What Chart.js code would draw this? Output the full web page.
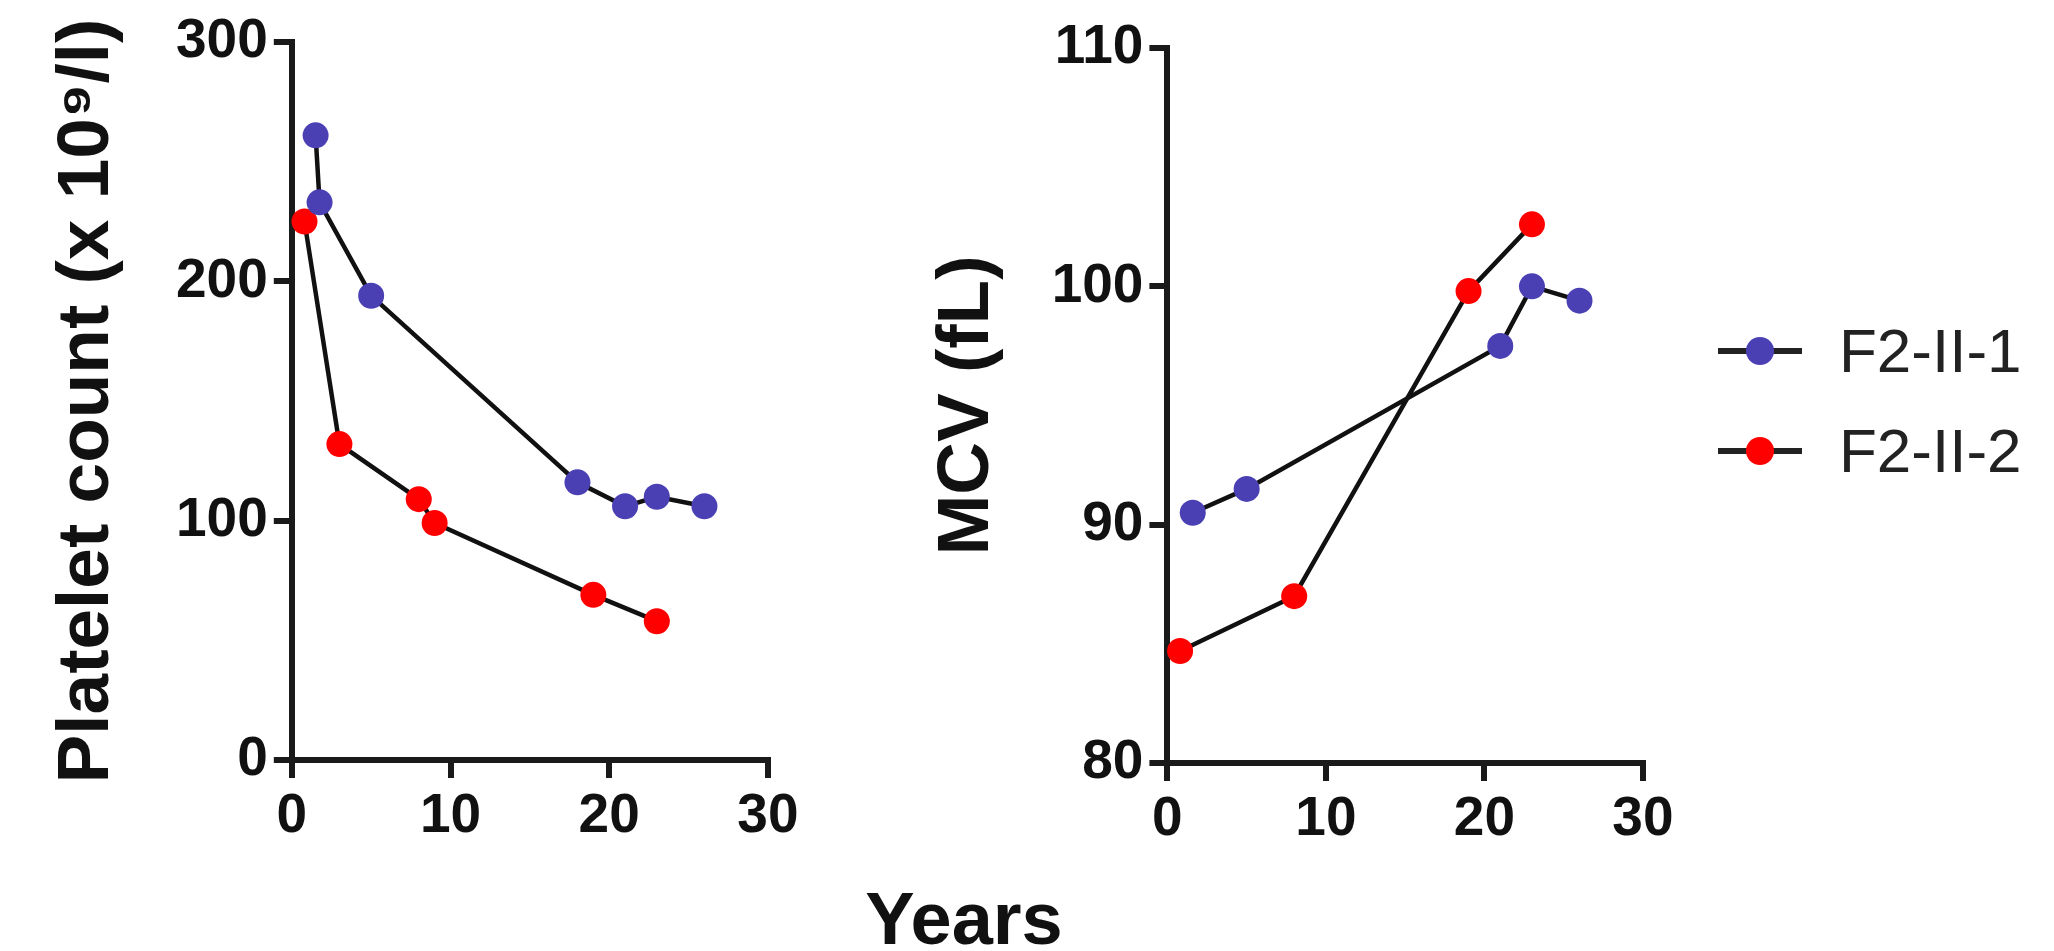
<!DOCTYPE html>
<html>
<head>
<meta charset="utf-8">
<script src="https://cdn.jsdelivr.net/npm/chart.js@4.4.1/dist/chart.umd.min.js"></script>
<style>
    body {
        margin: 0;
        background: #fff;
        width: 2054px;
        height: 951px;
        position: relative;
        overflow: hidden;
        font-family: "Liberation Sans", Arial, sans-serif;
    }
    canvas { position: absolute; top: 0; }
    #plateletChart { left: 0; }
    #mcvChart { left: 900px; }
    .legend-line { position: absolute; left: 1718px; width: 84px; height: 6px; background: #222; }
    .legend-dot { position: absolute; left: 1746px; width: 28px; height: 28px; border-radius: 50%; }
    .legend-text { position: absolute; left: 1839px; font-size: 62px; line-height: 62px; color: #222; white-space: nowrap; }
    #xTitle { position: absolute; left: 764px; width: 400px; top: 882px; text-align: center;
              font-size: 74px; line-height: 74px; font-weight: bold; color: #111; }
</style>
</head>
<body>
<canvas id="plateletChart" width="900" height="951"></canvas>
<canvas id="mcvChart" width="800" height="951"></canvas>
<div id="legend"></div>
<div id="xTitle"></div>

<script>
// Values
const seriesNames = ['F2-II-1', 'F2-II-2'];
const seriesColors = ['#4a40b4', '#ff0000'];

// Platelet count panel
const plateletBlueYears = [1.5, 1.75, 5, 18, 21, 23, 26];
const plateletBlueValues = [261, 233, 194, 116, 106, 110, 106];
const plateletRedYears = [0.8, 3, 8, 9, 19, 23];
const plateletRedValues = [225, 132, 109, 99, 69, 58];

// MCV panel
const mcvBlueYears = [1.6, 5, 21, 23, 26];
const mcvBlueValues = [90.5, 91.5, 97.5, 100, 99.4];
const mcvRedYears = [0.8, 8, 19, 23];
const mcvRedValues = [84.7, 87, 99.8, 102.6];

// Tick labels
const xTicks = [0, 10, 20, 30];
const plateletTicks = [0, 100, 200, 300];
const mcvTicks = [80, 90, 100, 110];

const xTitleText = 'Years';
const plateletTitle = 'Platelet count (x 10\u2079/l)';
const mcvTitle = 'MCV (fL)';

const axisColor = '#1a1a1a';
const fontFamily = '"Liberation Sans", Arial, sans-serif';

Chart.defaults.color = '#111';
Chart.defaults.font.family = fontFamily;

function toPoints(xs, ys) {
    return xs.map((x, i) => ({ x: x, y: ys[i] }));
}

function makeDataset(label, color, xs, ys) {
    return {
        label: label,
        data: toPoints(xs, ys),
        showLine: true,
        borderColor: '#111',
        borderWidth: 4.5,
        pointRadius: 13,
        pointHoverRadius: 13,
        pointBorderWidth: 0,
        pointBackgroundColor: color,
        clip: false
    };
}

function axisStyle(ticks, boxSize, isX, labelPad) {
    return {
        type: 'linear',
        min: ticks[0],
        max: ticks[ticks.length - 1],
        ticks: {
            stepSize: ticks[1] - ticks[0],
            autoSkip: false,
            maxRotation: 0,
            padding: labelPad,
            color: '#111',
            font: { size: 55, weight: 'bold' }
        },
        grid: {
            drawOnChartArea: false,
            drawTicks: true,
            tickLength: 18,
            lineWidth: 6,
            color: axisColor
        },
        border: { display: true, width: 6, color: axisColor },
        afterFit: function (scale) {
            if (isX) {
                scale.height = boxSize;
            } else {
                scale.width = boxSize;
            }
        }
    };
}

// Initialize one panel
function initPanel(canvasId, blue, red, yTicks, yTitle, box) {
    const ctx = document.getElementById(canvasId).getContext('2d');

    const yAxis = axisStyle(yTicks, box.yWidth, false, 6);
    yAxis.title = {
        display: true,
        text: yTitle,
        color: '#111',
        padding: { top: box.titlePad, bottom: 0 },
        font: { size: 73, weight: 'bold' }
    };

    new Chart(ctx, {
        type: 'scatter',
        data: {
            datasets: [
                makeDataset(seriesNames[0], seriesColors[0], blue[0], blue[1]),
                makeDataset(seriesNames[1], seriesColors[1], red[0], red[1])
            ]
        },
        options: {
            responsive: false,
            animation: false,
            devicePixelRatio: 1,
            layout: {
                padding: { left: 0, top: box.top, right: box.right, bottom: 0 }
            },
            scales: {
                x: axisStyle(xTicks, box.xHeight, true, 6),
                y: yAxis
            },
            plugins: {
                legend: { display: false },
                tooltip: { enabled: false }
            }
        }
    });
}

initPanel('plateletChart',
    [plateletBlueYears, plateletBlueValues],
    [plateletRedYears, plateletRedValues],
    plateletTicks, plateletTitle,
    { yWidth: 291.8, xHeight: 191, top: 42, right: 132.1, titlePad: 44 });

initPanel('mcvChart',
    [mcvBlueYears, mcvBlueValues],
    [mcvRedYears, mcvRedValues],
    mcvTicks, mcvTitle,
    { yWidth: 267.4, xHeight: 188, top: 48, right: 57.1, titlePad: 24 });

// Shared x title and legend
document.getElementById('xTitle').textContent = xTitleText;

const legend = document.getElementById('legend');
seriesNames.forEach((name, i) => {
    const rowY = 351 + i * 100;
    const line = document.createElement('div');
    line.className = 'legend-line';
    line.style.top = (rowY - 3) + 'px';
    const dot = document.createElement('div');
    dot.className = 'legend-dot';
    dot.style.top = (rowY - 14) + 'px';
    dot.style.background = seriesColors[i];
    const text = document.createElement('div');
    text.className = 'legend-text';
    text.style.top = (rowY + 21 - 52) + 'px';
    text.textContent = name;
    legend.appendChild(line);
    legend.appendChild(dot);
    legend.appendChild(text);
});
</script>
</body>
</html>
